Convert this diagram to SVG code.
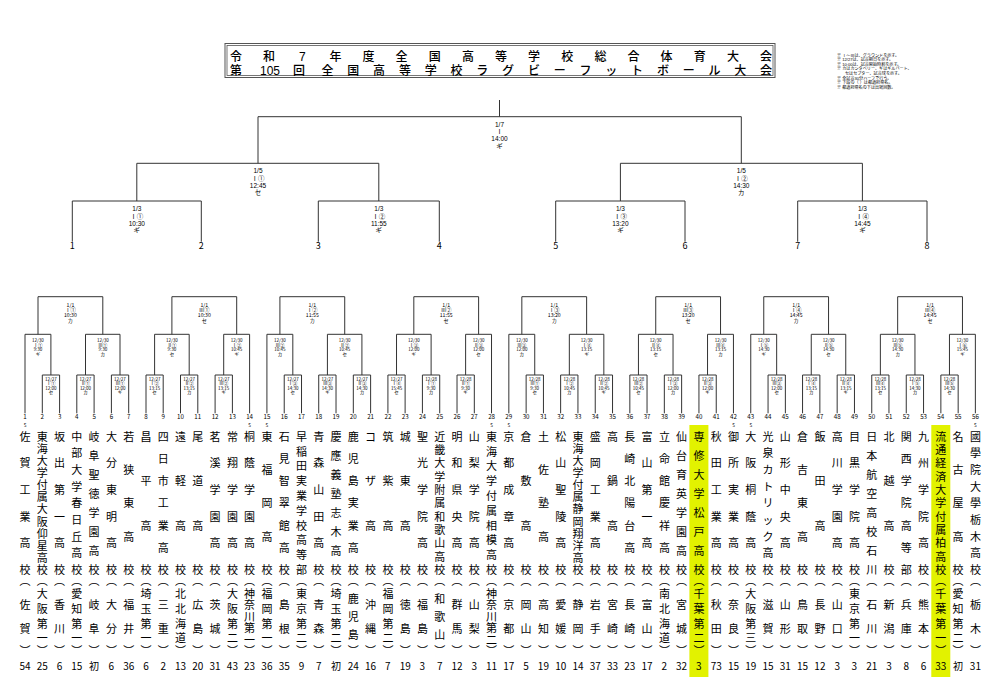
<svg xmlns="http://www.w3.org/2000/svg" width="1000" height="690" viewBox="0 0 1000 690">
<style>
text{font-family:"Noto Sans CJK JP","Noto Sans",sans-serif;fill:#000}
.ln{fill:none;stroke:#333;stroke-width:1}
.tt{font-size:12px;text-anchor:middle;font-weight:500;font-family:"Liberation Sans","Noto Sans CJK JP",sans-serif}
.nt{font-size:4.1px;font-family:"Liberation Sans","Noto Sans CJK JP",sans-serif}
.tl{font-size:6.5px;text-anchor:middle;font-family:"Liberation Sans","Noto Sans CJK JP",sans-serif}
.tn{font-size:9px;text-anchor:middle}
.l1{font-size:5.2px;text-anchor:middle}
.l2{font-size:4.5px;text-anchor:middle}
.no{font-size:6.2px;text-anchor:middle}
.sd{font-size:4.5px;text-anchor:middle}
.nm{font-size:11px;text-anchor:middle}
.ct{font-size:10px;text-anchor:middle}
.hl{fill:#E2F200}
</style>
<defs>
<path id="blkA" d="M42.3 413.3V375H59.6V413.3M76.8 413.3V375H94.1V413.3M111.4 413.3V375H128.7V413.3M25 413.3V334.3H50.9V375M85.5 375V334.3H120V375M38 334.3V296.7H102.8V334.3"/>
<path id="blkB" d="M146 413.3V375H163.2V413.3M180.5 413.3V375H197.8V413.3M215.1 413.3V375H232.4V413.3M154.6 375V334.3H189.2V375M223.7 375V334.3H249.6V413.3M171.9 334.3V296.7H236.7V334.3"/>
</defs>
<rect width="1000" height="690" fill="#fff"/>

<g id="title">
<rect x="225" y="43.5" width="550" height="34" fill="none" stroke="#555" stroke-width="1"/>
<rect x="227" y="45.5" width="546" height="30" fill="none" stroke="#555" stroke-width="0.8"/>
<text class="tt" x="236 269.1 302.3 335.4 368.5 401.6 434.8 467.9 501 534.1 567.3 600.4 633.5 666.6 699.8 732.9 766" y="60.5">令和7年度全国高等学校総合体育大会</text>
<text class="tt" y="74.5"><tspan x="236">第</tspan><tspan x="270">105</tspan><tspan x="299">回</tspan><tspan x="327.5 353.3 379.1 404.9 430.7 456.5 482.3 508.1 533.9 559.7 585.5 611.3 637.1 662.9 688.7 714.5 740.3 766.1">全国高等学校ラグビーフットボール大会</tspan></text>
</g>

<g id="notes">
<text class="nt"><tspan x="837" y="56.6">※ Ⅰ～Ⅲは、グラウンドを示す。</tspan><tspan x="837" y="61.2">※ 12/27は、試合期日を示す。</tspan><tspan x="837" y="65.8">※ 10:00は、試合開始時刻を示す。</tspan><tspan x="837" y="70.4">※ カはカンタベリー、ギはギルバート、</tspan><tspan x="845" y="75">セはセプター、試合球を示す。</tspan><tspan x="837" y="79.6">※ 全試合30分ハーフで行う。</tspan><tspan x="837" y="84.2">※ 下段の（ ）は都道府県名。</tspan><tspan x="837" y="88.8">※ 都道府県名の下は出場回数。</tspan></text>
</g>

<g id="highlights">
<rect class="hl" x="689.4" y="425" width="19" height="252"/>
<rect class="hl" x="931.3" y="425" width="19" height="252"/>
</g>

<g id="connectors" class="ln">
<path d="M499.5 100V116.7M258 163.3V116.7H741.3V163.3M136.8 201V163.3H378.8V201M620.4 201V163.3H862.4V201M72.3 241.7V201H201.3V241.7M318.3 241.7V201H439.3V241.7M555.7 241.7V201H685V241.7M797.7 241.7V201H927V241.7"/>
<use href="#blkA"/>
<use href="#blkB"/>
<use href="#blkA" x="241.92"/>
<use href="#blkB" x="241.92"/>
<use href="#blkA" x="483.84"/>
<use href="#blkB" x="483.84"/>
<use href="#blkA" x="725.76"/>
<use href="#blkB" x="725.76"/>
</g>

<g id="top-labels">
<text class="tl"><tspan x="499.5" y="126.6">1/7</tspan><tspan x="499.5" y="133.9">Ⅰ</tspan><tspan x="499.5" y="141.2">14:00</tspan><tspan x="499.5" y="148.5">ギ</tspan></text>
<text class="tl"><tspan x="258" y="173.3">1/5</tspan><tspan x="258" y="180.6">Ⅰ①</tspan><tspan x="258" y="187.9">12:45</tspan><tspan x="258" y="195.2">セ</tspan></text>
<text class="tl"><tspan x="741.3" y="173.3">1/5</tspan><tspan x="741.3" y="180.6">Ⅰ②</tspan><tspan x="741.3" y="187.9">14:30</tspan><tspan x="741.3" y="195.2">カ</tspan></text>
<text class="tl"><tspan x="136.8" y="211.3">1/3</tspan><tspan x="136.8" y="218.6">Ⅰ①</tspan><tspan x="136.8" y="225.9">10:30</tspan><tspan x="136.8" y="233.2">ギ</tspan></text>
<text class="tl"><tspan x="378.8" y="211.3">1/3</tspan><tspan x="378.8" y="218.6">Ⅰ②</tspan><tspan x="378.8" y="225.9">11:55</tspan><tspan x="378.8" y="233.2">ギ</tspan></text>
<text class="tl"><tspan x="620.4" y="211.3">1/3</tspan><tspan x="620.4" y="218.6">Ⅰ③</tspan><tspan x="620.4" y="225.9">13:20</tspan><tspan x="620.4" y="233.2">ギ</tspan></text>
<text class="tl"><tspan x="862.4" y="211.3">1/3</tspan><tspan x="862.4" y="218.6">Ⅰ④</tspan><tspan x="862.4" y="225.9">14:45</tspan><tspan x="862.4" y="233.2">ギ</tspan></text>
<text class="tn" x="72.3 201.3 318.3 439.3 555.7 685 797.7 927" y="248.5">12345678</text>
</g>

<g id="block1">
<text class="l1"><tspan x="70.4" y="307">1/1</tspan><tspan x="70.4" y="312.2">Ⅰ①</tspan><tspan x="70.4" y="317.4">10:30</tspan><tspan x="70.4" y="322.6">カ</tspan></text>
<text class="l2"><tspan x="38" y="342.4">12/30</tspan><tspan x="38" y="346.8">Ⅰ①</tspan><tspan x="38" y="351.2">9:30</tspan><tspan x="38" y="355.6">ギ</tspan></text>
<text class="l2"><tspan x="102.8" y="342.4">12/30</tspan><tspan x="102.8" y="346.8">Ⅲ①</tspan><tspan x="102.8" y="351.2">9:30</tspan><tspan x="102.8" y="355.6">カ</tspan></text>
<text class="l2"><tspan x="50.9" y="381">12/27</tspan><tspan x="50.9" y="385.4">Ⅰ①</tspan><tspan x="50.9" y="389.8">12:00</tspan><tspan x="50.9" y="394.2">セ</tspan></text>
<text class="l2"><tspan x="85.5" y="381">12/27</tspan><tspan x="85.5" y="385.4">Ⅱ①</tspan><tspan x="85.5" y="389.8">12:00</tspan><tspan x="85.5" y="394.2">カ</tspan></text>
<text class="l2"><tspan x="120" y="381">12/27</tspan><tspan x="120" y="385.4">Ⅲ①</tspan><tspan x="120" y="389.8">12:00</tspan><tspan x="120" y="394.2">ギ</tspan></text>
</g>
<g id="block2">
<text class="l1"><tspan x="204.3" y="307">1/1</tspan><tspan x="204.3" y="312.2">Ⅲ①</tspan><tspan x="204.3" y="317.4">10:30</tspan><tspan x="204.3" y="322.6">セ</tspan></text>
<text class="l2"><tspan x="171.9" y="342.4">12/30</tspan><tspan x="171.9" y="346.8">Ⅱ①</tspan><tspan x="171.9" y="351.2">9:30</tspan><tspan x="171.9" y="355.6">セ</tspan></text>
<text class="l2"><tspan x="236.7" y="342.4">12/30</tspan><tspan x="236.7" y="346.8">Ⅰ②</tspan><tspan x="236.7" y="351.2">10:45</tspan><tspan x="236.7" y="355.6">ギ</tspan></text>
<text class="l2"><tspan x="154.6" y="381">12/27</tspan><tspan x="154.6" y="385.4">Ⅰ②</tspan><tspan x="154.6" y="389.8">13:15</tspan><tspan x="154.6" y="394.2">セ</tspan></text>
<text class="l2"><tspan x="189.2" y="381">12/27</tspan><tspan x="189.2" y="385.4">Ⅱ②</tspan><tspan x="189.2" y="389.8">13:15</tspan><tspan x="189.2" y="394.2">カ</tspan></text>
<text class="l2"><tspan x="223.7" y="381">12/27</tspan><tspan x="223.7" y="385.4">Ⅲ②</tspan><tspan x="223.7" y="389.8">13:15</tspan><tspan x="223.7" y="394.2">ギ</tspan></text>
</g>
<g id="block3" transform="translate(241.92 0)">
<text class="l1"><tspan x="70.4" y="307">1/1</tspan><tspan x="70.4" y="312.2">Ⅰ②</tspan><tspan x="70.4" y="317.4">11:55</tspan><tspan x="70.4" y="322.6">カ</tspan></text>
<text class="l2"><tspan x="38" y="342.4">12/30</tspan><tspan x="38" y="346.8">Ⅲ②</tspan><tspan x="38" y="351.2">10:45</tspan><tspan x="38" y="355.6">カ</tspan></text>
<text class="l2"><tspan x="102.8" y="342.4">12/30</tspan><tspan x="102.8" y="346.8">Ⅱ②</tspan><tspan x="102.8" y="351.2">10:45</tspan><tspan x="102.8" y="355.6">セ</tspan></text>
<text class="l2"><tspan x="50.9" y="381">12/27</tspan><tspan x="50.9" y="385.4">Ⅰ③</tspan><tspan x="50.9" y="389.8">14:30</tspan><tspan x="50.9" y="394.2">セ</tspan></text>
<text class="l2"><tspan x="85.5" y="381">12/27</tspan><tspan x="85.5" y="385.4">Ⅲ③</tspan><tspan x="85.5" y="389.8">14:30</tspan><tspan x="85.5" y="394.2">ギ</tspan></text>
<text class="l2"><tspan x="120" y="381">12/27</tspan><tspan x="120" y="385.4">Ⅱ③</tspan><tspan x="120" y="389.8">14:30</tspan><tspan x="120" y="394.2">カ</tspan></text>
</g>
<g id="block4" transform="translate(241.92 0)">
<text class="l1"><tspan x="204.3" y="307">1/1</tspan><tspan x="204.3" y="312.2">Ⅲ②</tspan><tspan x="204.3" y="317.4">11:55</tspan><tspan x="204.3" y="322.6">セ</tspan></text>
<text class="l2"><tspan x="171.9" y="342.4">12/30</tspan><tspan x="171.9" y="346.8">Ⅰ③</tspan><tspan x="171.9" y="351.2">12:00</tspan><tspan x="171.9" y="355.6">ギ</tspan></text>
<text class="l2"><tspan x="236.7" y="342.4">12/30</tspan><tspan x="236.7" y="346.8">Ⅱ③</tspan><tspan x="236.7" y="351.2">12:00</tspan><tspan x="236.7" y="355.6">セ</tspan></text>
<text class="l2"><tspan x="154.6" y="381">12/27</tspan><tspan x="154.6" y="385.4">Ⅰ④</tspan><tspan x="154.6" y="389.8">15:45</tspan><tspan x="154.6" y="394.2">セ</tspan></text>
<text class="l2"><tspan x="189.2" y="381">12/28</tspan><tspan x="189.2" y="385.4">Ⅰ①</tspan><tspan x="189.2" y="389.8">9:30</tspan><tspan x="189.2" y="394.2">カ</tspan></text>
<text class="l2"><tspan x="223.7" y="381">12/28</tspan><tspan x="223.7" y="385.4">Ⅱ①</tspan><tspan x="223.7" y="389.8">9:30</tspan><tspan x="223.7" y="394.2">ギ</tspan></text>
</g>
<g id="block5" transform="translate(483.84 0)">
<text class="l1"><tspan x="70.4" y="307">1/1</tspan><tspan x="70.4" y="312.2">Ⅰ③</tspan><tspan x="70.4" y="317.4">13:20</tspan><tspan x="70.4" y="322.6">カ</tspan></text>
<text class="l2"><tspan x="38" y="342.4">12/30</tspan><tspan x="38" y="346.8">Ⅲ③</tspan><tspan x="38" y="351.2">12:00</tspan><tspan x="38" y="355.6">カ</tspan></text>
<text class="l2"><tspan x="102.8" y="342.4">12/30</tspan><tspan x="102.8" y="346.8">Ⅰ④</tspan><tspan x="102.8" y="351.2">13:15</tspan><tspan x="102.8" y="355.6">ギ</tspan></text>
<text class="l2"><tspan x="50.9" y="381">12/28</tspan><tspan x="50.9" y="385.4">Ⅲ①</tspan><tspan x="50.9" y="389.8">9:30</tspan><tspan x="50.9" y="394.2">セ</tspan></text>
<text class="l2"><tspan x="85.5" y="381">12/28</tspan><tspan x="85.5" y="385.4">Ⅰ②</tspan><tspan x="85.5" y="389.8">10:45</tspan><tspan x="85.5" y="394.2">カ</tspan></text>
<text class="l2"><tspan x="120" y="381">12/28</tspan><tspan x="120" y="385.4">Ⅱ②</tspan><tspan x="120" y="389.8">10:45</tspan><tspan x="120" y="394.2">ギ</tspan></text>
</g>
<g id="block6" transform="translate(483.84 0)">
<text class="l1"><tspan x="204.3" y="307">1/1</tspan><tspan x="204.3" y="312.2">Ⅲ③</tspan><tspan x="204.3" y="317.4">13:20</tspan><tspan x="204.3" y="322.6">セ</tspan></text>
<text class="l2"><tspan x="171.9" y="342.4">12/30</tspan><tspan x="171.9" y="346.8">Ⅱ④</tspan><tspan x="171.9" y="351.2">13:15</tspan><tspan x="171.9" y="355.6">セ</tspan></text>
<text class="l2"><tspan x="236.7" y="342.4">12/30</tspan><tspan x="236.7" y="346.8">Ⅲ④</tspan><tspan x="236.7" y="351.2">13:15</tspan><tspan x="236.7" y="355.6">カ</tspan></text>
<text class="l2"><tspan x="154.6" y="381">12/28</tspan><tspan x="154.6" y="385.4">Ⅲ②</tspan><tspan x="154.6" y="389.8">10:45</tspan><tspan x="154.6" y="394.2">セ</tspan></text>
<text class="l2"><tspan x="189.2" y="381">12/28</tspan><tspan x="189.2" y="385.4">Ⅰ③</tspan><tspan x="189.2" y="389.8">12:00</tspan><tspan x="189.2" y="394.2">カ</tspan></text>
<text class="l2"><tspan x="223.7" y="381">12/28</tspan><tspan x="223.7" y="385.4">Ⅱ③</tspan><tspan x="223.7" y="389.8">12:00</tspan><tspan x="223.7" y="394.2">ギ</tspan></text>
</g>
<g id="block7" transform="translate(725.76 0)">
<text class="l1"><tspan x="70.4" y="307">1/1</tspan><tspan x="70.4" y="312.2">Ⅰ④</tspan><tspan x="70.4" y="317.4">14:45</tspan><tspan x="70.4" y="322.6">カ</tspan></text>
<text class="l2"><tspan x="38" y="342.4">12/30</tspan><tspan x="38" y="346.8">Ⅰ⑤</tspan><tspan x="38" y="351.2">14:30</tspan><tspan x="38" y="355.6">ギ</tspan></text>
<text class="l2"><tspan x="102.8" y="342.4">12/30</tspan><tspan x="102.8" y="346.8">Ⅱ⑤</tspan><tspan x="102.8" y="351.2">14:30</tspan><tspan x="102.8" y="355.6">セ</tspan></text>
<text class="l2"><tspan x="50.9" y="381">12/28</tspan><tspan x="50.9" y="385.4">Ⅲ③</tspan><tspan x="50.9" y="389.8">12:00</tspan><tspan x="50.9" y="394.2">セ</tspan></text>
<text class="l2"><tspan x="85.5" y="381">12/28</tspan><tspan x="85.5" y="385.4">Ⅰ④</tspan><tspan x="85.5" y="389.8">13:15</tspan><tspan x="85.5" y="394.2">カ</tspan></text>
<text class="l2"><tspan x="120" y="381">12/28</tspan><tspan x="120" y="385.4">Ⅱ④</tspan><tspan x="120" y="389.8">13:15</tspan><tspan x="120" y="394.2">ギ</tspan></text>
</g>
<g id="block8" transform="translate(725.76 0)">
<text class="l1"><tspan x="204.3" y="307">1/1</tspan><tspan x="204.3" y="312.2">Ⅲ④</tspan><tspan x="204.3" y="317.4">14:45</tspan><tspan x="204.3" y="322.6">セ</tspan></text>
<text class="l2"><tspan x="171.9" y="342.4">12/30</tspan><tspan x="171.9" y="346.8">Ⅲ⑤</tspan><tspan x="171.9" y="351.2">14:30</tspan><tspan x="171.9" y="355.6">カ</tspan></text>
<text class="l2"><tspan x="236.7" y="342.4">12/30</tspan><tspan x="236.7" y="346.8">Ⅰ⑥</tspan><tspan x="236.7" y="351.2">15:45</tspan><tspan x="236.7" y="355.6">ギ</tspan></text>
<text class="l2"><tspan x="154.6" y="381">12/28</tspan><tspan x="154.6" y="385.4">Ⅲ④</tspan><tspan x="154.6" y="389.8">13:15</tspan><tspan x="154.6" y="394.2">セ</tspan></text>
<text class="l2"><tspan x="189.2" y="381">12/28</tspan><tspan x="189.2" y="385.4">Ⅰ⑤</tspan><tspan x="189.2" y="389.8">14:30</tspan><tspan x="189.2" y="394.2">カ</tspan></text>
<text class="l2"><tspan x="223.7" y="381">12/28</tspan><tspan x="223.7" y="385.4">Ⅲ⑤</tspan><tspan x="223.7" y="389.8">14:30</tspan><tspan x="223.7" y="394.2">セ</tspan></text>
</g>

<g id="team-numbers" class="no">
<text x="25" y="419.2">1</text><text x="42.3" y="419.2">2</text><text x="59.6" y="419.2">3</text><text x="76.8" y="419.2">4</text><text x="94.1" y="419.2">5</text><text x="111.4" y="419.2">6</text><text x="128.7" y="419.2">7</text><text x="146" y="419.2">8</text><text x="163.2" y="419.2">9</text><text x="180.5" y="419.2">10</text><text x="197.8" y="419.2">11</text><text x="215.1" y="419.2">12</text><text x="232.4" y="419.2">13</text><text x="249.6" y="419.2">14</text>
<text x="266.9" y="419.2">15</text><text x="284.2" y="419.2">16</text><text x="301.5" y="419.2">17</text><text x="318.8" y="419.2">18</text><text x="336" y="419.2">19</text><text x="353.3" y="419.2">20</text><text x="370.6" y="419.2">21</text><text x="387.9" y="419.2">22</text><text x="405.2" y="419.2">23</text><text x="422.4" y="419.2">24</text><text x="439.7" y="419.2">25</text><text x="457" y="419.2">26</text><text x="474.3" y="419.2">27</text><text x="491.6" y="419.2">28</text>
<text x="508.8" y="419.2">29</text><text x="526.1" y="419.2">30</text><text x="543.4" y="419.2">31</text><text x="560.7" y="419.2">32</text><text x="578" y="419.2">33</text><text x="595.2" y="419.2">34</text><text x="612.5" y="419.2">35</text><text x="629.8" y="419.2">36</text><text x="647.1" y="419.2">37</text><text x="664.4" y="419.2">38</text><text x="681.6" y="419.2">39</text><text x="698.9" y="419.2">40</text><text x="716.2" y="419.2">41</text><text x="733.5" y="419.2">42</text>
<text x="750.8" y="419.2">43</text><text x="768" y="419.2">44</text><text x="785.3" y="419.2">45</text><text x="802.6" y="419.2">46</text><text x="819.9" y="419.2">47</text><text x="837.2" y="419.2">48</text><text x="854.4" y="419.2">49</text><text x="871.7" y="419.2">50</text><text x="889" y="419.2">51</text><text x="906.3" y="419.2">52</text><text x="923.6" y="419.2">53</text><text x="940.8" y="419.2">54</text><text x="958.1" y="419.2">55</text><text x="975.4" y="419.2">56</text>
</g>
<g id="seeds" class="sd">
<text x="25" y="426.8">S</text><text x="249.6" y="426.8">S</text><text x="266.9" y="426.8">S</text><text x="491.6" y="426.8">S</text><text x="508.8" y="426.8">S</text><text x="733.5" y="426.8">S</text><text x="750.8" y="426.8">S</text><text x="975.4" y="426.8">S</text>
</g>

<g id="schools">
<g id="s1" transform="translate(25 0)"><text class="nm" x="0 0 0 0 0 0 0 0 0 0" y="440.7 467.4 494 520.7 547.3 574 584.7 608.6 632.9 654.6">佐賀工業高校︵佐賀︶</text><text class="ct" x="0" y="669.6">54</text></g>
<g id="s2" transform="translate(42.3 0)"><text class="nm" x="0 0 0 0 0 0 0 0 0 0 0 0 0 0 0 0 0 0" y="440.7 452.8 464.9 477.1 489.2 501.3 513.4 525.5 537.6 549.8 561.9 574 584.7 598.3 613 627.7 642.4 654.6">東海大学付属大阪仰星高校︵大阪第一︶</text><text class="ct" x="0" y="669.6">25</text></g>
<g id="s3" transform="translate(59.6 0)"><text class="nm" x="0 0 0 0 0 0 0 0 0 0" y="440.7 467.4 494 520.7 547.3 574 584.7 608.6 632.9 654.6">坂出第一高校︵香川︶</text><text class="ct" x="0" y="669.6">6</text></g>
<g id="s4" transform="translate(76.8 0)"><text class="nm" x="0 0 0 0 0 0 0 0 0 0 0 0 0 0 0" y="440.7 457.4 474 490.7 507.4 524 540.7 557.3 574 584.7 598.3 613 627.7 642.4 654.6">中部大学春日丘高校︵愛知第一︶</text><text class="ct" x="0" y="669.6">15</text></g>
<g id="s5" transform="translate(94.1 0)"><text class="nm" x="0 0 0 0 0 0 0 0 0 0 0 0" y="440.7 459.7 478.8 497.8 516.9 535.9 555 574 584.7 608.6 632.9 654.6">岐阜聖徳学園高校︵岐阜︶</text><text class="ct" x="0" y="669.6">初</text></g>
<g id="s6" transform="translate(111.4 0)"><text class="nm" x="0 0 0 0 0 0 0 0 0 0" y="440.7 467.4 494 520.7 547.3 574 584.7 608.6 632.9 654.6">大分東明高校︵大分︶</text><text class="ct" x="0" y="669.6">6</text></g>
<g id="s7" transform="translate(128.7 0)"><text class="nm" x="0 0 0 0 0 0 0 0 0" y="440.7 474 507.3 540.7 574 584.7 608.6 632.9 654.6">若狭東高校︵福井︶</text><text class="ct" x="0" y="669.6">36</text></g>
<g id="s8" transform="translate(146 0)"><text class="nm" x="0 0 0 0 0 0 0 0 0 0" y="440.7 485.1 529.6 574 584.7 598.3 613 627.7 642.4 654.6">昌平高校︵埼玉第一︶</text><text class="ct" x="0" y="669.6">6</text></g>
<g id="s9" transform="translate(163.2 0)"><text class="nm" x="0 0 0 0 0 0 0 0 0 0 0" y="440.7 462.9 485.1 507.3 529.6 551.8 574 584.7 608.6 632.9 654.6">四日市工業高校︵三重︶</text><text class="ct" x="0" y="669.6">2</text></g>
<g id="s10" transform="translate(180.5 0)"><text class="nm" x="0 0 0 0 0 0 0 0 0 0" y="440.7 485.1 529.6 574 584.7 598.3 613 627.7 642.4 654.6">遠軽高校︵北北海道︶</text><text class="ct" x="0" y="669.6">13</text></g>
<g id="s11" transform="translate(197.8 0)"><text class="nm" x="0 0 0 0 0 0 0 0" y="440.7 485.1 529.6 574 584.7 608.6 632.9 654.6">尾道高校︵広島︶</text><text class="ct" x="0" y="669.6">20</text></g>
<g id="s12" transform="translate(215.1 0)"><text class="nm" x="0 0 0 0 0 0 0 0 0 0" y="440.7 467.4 494 520.7 547.3 574 584.7 608.6 632.9 654.6">茗溪学園高校︵茨城︶</text><text class="ct" x="0" y="669.6">31</text></g>
<g id="s13" transform="translate(232.4 0)"><text class="nm" x="0 0 0 0 0 0 0 0 0 0 0 0" y="440.7 467.4 494 520.7 547.3 574 584.7 598.3 613 627.7 642.4 654.6">常翔学園高校︵大阪第二︶</text><text class="ct" x="0" y="669.6">43</text></g>
<g id="s14" transform="translate(249.6 0)"><text class="nm" x="0 0 0 0 0 0 0 0 0 0 0 0 0" y="440.7 467.4 494 520.7 547.3 574 584.7 597.7 609.2 620.7 632.2 643.7 654.6">桐蔭学園高校︵神奈川第一︶</text><text class="ct" x="0" y="669.6">23</text></g>
<g id="s15" transform="translate(266.9 0)"><text class="nm" x="0 0 0 0 0 0 0 0 0 0 0" y="440.7 474 507.3 540.7 574 584.7 598.3 613 627.7 642.4 654.6">東福岡高校︵福岡第一︶</text><text class="ct" x="0" y="669.6">36</text></g>
<g id="s16" transform="translate(284.2 0)"><text class="nm" x="0 0 0 0 0 0 0 0 0 0 0" y="440.7 462.9 485.1 507.3 529.6 551.8 574 584.7 608.6 632.9 654.6">石見智翠館高校︵島根︶</text><text class="ct" x="0" y="669.6">35</text></g>
<g id="s17" transform="translate(301.5 0)"><text class="nm" x="0 0 0 0 0 0 0 0 0 0 0 0 0 0 0 0" y="440.7 455.5 470.3 485.1 499.9 514.8 529.6 544.4 559.2 574 584.7 598.3 613 627.7 642.4 654.6">早稲田実業学校高等部︵東京第二︶</text><text class="ct" x="0" y="669.6">9</text></g>
<g id="s18" transform="translate(318.8 0)"><text class="nm" x="0 0 0 0 0 0 0 0 0 0" y="440.7 467.4 494 520.7 547.3 574 584.7 608.6 632.9 654.6">青森山田高校︵青森︶</text><text class="ct" x="0" y="669.6">7</text></g>
<g id="s19" transform="translate(336 0)"><text class="nm" x="0 0 0 0 0 0 0 0 0 0 0 0 0 0" y="440.7 459.7 478.8 497.8 516.9 535.9 555 574 584.7 598.3 613 627.7 642.4 654.6">慶應義塾志木高校︵埼玉第二︶</text><text class="ct" x="0" y="669.6">初</text></g>
<g id="s20" transform="translate(353.3 0)"><text class="nm" x="0 0 0 0 0 0 0 0 0 0 0 0" y="440.7 462.9 485.1 507.3 529.6 551.8 574 584.7 602.7 620.7 638.7 654.6">鹿児島実業高校︵鹿児島︶</text><text class="ct" x="0" y="669.6">24</text></g>
<g id="s21" transform="translate(370.6 0)"><text class="nm" x="0 0 0 0 0 0 0 0" y="440.7 485.1 529.6 574 584.7 608.6 632.9 654.6">コザ高校︵沖縄︶</text><text class="ct" x="0" y="669.6">16</text></g>
<g id="s22" transform="translate(387.9 0)"><text class="nm" x="0 0 0 0 0 0 0 0 0 0" y="440.7 485.1 529.6 574 584.7 598.3 613 627.7 642.4 654.6">筑紫高校︵福岡第二︶</text><text class="ct" x="0" y="669.6">7</text></g>
<g id="s23" transform="translate(405.2 0)"><text class="nm" x="0 0 0 0 0 0 0 0" y="440.7 485.1 529.6 574 584.7 608.6 632.9 654.6">城東高校︵徳島︶</text><text class="ct" x="0" y="669.6">19</text></g>
<g id="s24" transform="translate(422.4 0)"><text class="nm" x="0 0 0 0 0 0 0 0 0 0" y="440.7 467.4 494 520.7 547.3 574 584.7 608.6 632.9 654.6">聖光学院高校︵福島︶</text><text class="ct" x="0" y="669.6">3</text></g>
<g id="s25" transform="translate(439.7 0)"><text class="nm" x="0 0 0 0 0 0 0 0 0 0 0 0 0 0 0 0" y="440.7 454 467.4 480.7 494 507.4 520.7 534 547.3 560.7 574 584.7 602.7 620.7 638.7 654.6">近畿大学附属和歌山高校︵和歌山︶</text><text class="ct" x="0" y="669.6">7</text></g>
<g id="s26" transform="translate(457 0)"><text class="nm" x="0 0 0 0 0 0 0 0 0 0" y="440.7 467.4 494 520.7 547.3 574 584.7 608.6 632.9 654.6">明和県央高校︵群馬︶</text><text class="ct" x="0" y="669.6">12</text></g>
<g id="s27" transform="translate(474.3 0)"><text class="nm" x="0 0 0 0 0 0 0 0 0 0" y="440.7 467.4 494 520.7 547.3 574 584.7 608.6 632.9 654.6">山梨学院高校︵山梨︶</text><text class="ct" x="0" y="669.6">3</text></g>
<g id="s28" transform="translate(491.6 0)"><text class="nm" x="0 0 0 0 0 0 0 0 0 0 0 0 0 0 0 0 0" y="440.7 455.5 470.3 485.1 499.9 514.8 529.6 544.4 559.2 574 584.7 597.7 609.2 620.7 632.2 643.7 654.6">東海大学付属相模高校︵神奈川第二︶</text><text class="ct" x="0" y="669.6">11</text></g>
<g id="s29" transform="translate(508.8 0)"><text class="nm" x="0 0 0 0 0 0 0 0 0 0" y="440.7 467.4 494 520.7 547.3 574 584.7 608.6 632.9 654.6">京都成章高校︵京都︶</text><text class="ct" x="0" y="669.6">17</text></g>
<g id="s30" transform="translate(526.1 0)"><text class="nm" x="0 0 0 0 0 0 0 0" y="440.7 485.1 529.6 574 584.7 608.6 632.9 654.6">倉敷高校︵岡山︶</text><text class="ct" x="0" y="669.6">5</text></g>
<g id="s31" transform="translate(543.4 0)"><text class="nm" x="0 0 0 0 0 0 0 0 0" y="440.7 474 507.3 540.7 574 584.7 608.6 632.9 654.6">土佐塾高校︵高知︶</text><text class="ct" x="0" y="669.6">19</text></g>
<g id="s32" transform="translate(560.7 0)"><text class="nm" x="0 0 0 0 0 0 0 0 0 0" y="440.7 467.4 494 520.7 547.3 574 584.7 608.6 632.9 654.6">松山聖陵高校︵愛媛︶</text><text class="ct" x="0" y="669.6">10</text></g>
<g id="s33" transform="translate(578 0)"><text class="nm" x="0 0 0 0 0 0 0 0 0 0 0 0 0 0 0 0" y="440.7 452.8 464.9 477.1 489.2 501.3 513.4 525.5 537.6 549.8 561.9 574 584.7 608.6 632.9 654.6">東海大学付属静岡翔洋高校︵静岡︶</text><text class="ct" x="0" y="669.6">14</text></g>
<g id="s34" transform="translate(595.2 0)"><text class="nm" x="0 0 0 0 0 0 0 0 0 0" y="440.7 467.4 494 520.7 547.3 574 584.7 608.6 632.9 654.6">盛岡工業高校︵岩手︶</text><text class="ct" x="0" y="669.6">37</text></g>
<g id="s35" transform="translate(612.5 0)"><text class="nm" x="0 0 0 0 0 0 0 0" y="440.7 485.1 529.6 574 584.7 608.6 632.9 654.6">高鍋高校︵宮崎︶</text><text class="ct" x="0" y="669.6">33</text></g>
<g id="s36" transform="translate(629.8 0)"><text class="nm" x="0 0 0 0 0 0 0 0 0 0 0" y="440.7 462.9 485.1 507.3 529.6 551.8 574 584.7 608.6 632.9 654.6">長崎北陽台高校︵長崎︶</text><text class="ct" x="0" y="669.6">23</text></g>
<g id="s37" transform="translate(647.1 0)"><text class="nm" x="0 0 0 0 0 0 0 0 0 0" y="440.7 467.4 494 520.7 547.3 574 584.7 608.6 632.9 654.6">富山第一高校︵富山︶</text><text class="ct" x="0" y="669.6">17</text></g>
<g id="s38" transform="translate(664.4 0)"><text class="nm" x="0 0 0 0 0 0 0 0 0 0 0 0 0" y="440.7 462.9 485.1 507.3 529.6 551.8 574 584.7 598.3 613 627.7 642.4 654.6">立命館慶祥高校︵南北海道︶</text><text class="ct" x="0" y="669.6">2</text></g>
<g id="s39" transform="translate(681.6 0)"><text class="nm" x="0 0 0 0 0 0 0 0 0 0 0 0" y="440.7 459.7 478.8 497.8 516.9 535.9 555 574 584.7 608.6 632.9 654.6">仙台育英学園高校︵宮城︶</text><text class="ct" x="0" y="669.6">32</text></g>
<g id="s40" transform="translate(698.9 0)"><text class="nm" x="0 0 0 0 0 0 0 0 0 0 0 0 0 0" y="440.7 459.7 478.8 497.8 516.9 535.9 555 574 584.7 598.3 613 627.7 642.4 654.6">専修大学松戸高校︵千葉第二︶</text><text class="ct" x="0" y="669.6">3</text></g>
<g id="s41" transform="translate(716.2 0)"><text class="nm" x="0 0 0 0 0 0 0 0 0 0" y="440.7 467.4 494 520.7 547.3 574 584.7 608.6 632.9 654.6">秋田工業高校︵秋田︶</text><text class="ct" x="0" y="669.6">73</text></g>
<g id="s42" transform="translate(733.5 0)"><text class="nm" x="0 0 0 0 0 0 0 0 0 0" y="440.7 467.4 494 520.7 547.3 574 584.7 608.6 632.9 654.6">御所実業高校︵奈良︶</text><text class="ct" x="0" y="669.6">15</text></g>
<g id="s43" transform="translate(750.8 0)"><text class="nm" x="0 0 0 0 0 0 0 0 0 0 0 0" y="440.7 467.4 494 520.7 547.3 574 584.7 598.3 613 627.7 642.4 654.6">大阪桐蔭高校︵大阪第三︶</text><text class="ct" x="0" y="669.6">19</text></g>
<g id="s44" transform="translate(768 0)"><text class="nm" x="0 0 0 0 0 0 0 0 0 0 0 0 0" y="440.7 457.4 474 490.7 507.4 524 540.7 557.3 574 584.7 608.6 632.9 654.6">光泉カトリック高校︵滋賀︶</text><text class="ct" x="0" y="669.6">15</text></g>
<g id="s45" transform="translate(785.3 0)"><text class="nm" x="0 0 0 0 0 0 0 0 0 0" y="440.7 467.4 494 520.7 547.3 574 584.7 608.6 632.9 654.6">山形中央高校︵山形︶</text><text class="ct" x="0" y="669.6">31</text></g>
<g id="s46" transform="translate(802.6 0)"><text class="nm" x="0 0 0 0 0 0 0 0 0" y="440.7 474 507.3 540.7 574 584.7 608.6 632.9 654.6">倉吉東高校︵鳥取︶</text><text class="ct" x="0" y="669.6">15</text></g>
<g id="s47" transform="translate(819.9 0)"><text class="nm" x="0 0 0 0 0 0 0 0" y="440.7 485.1 529.6 574 584.7 608.6 632.9 654.6">飯田高校︵長野︶</text><text class="ct" x="0" y="669.6">12</text></g>
<g id="s48" transform="translate(837.2 0)"><text class="nm" x="0 0 0 0 0 0 0 0 0 0" y="440.7 467.4 494 520.7 547.3 574 584.7 608.6 632.9 654.6">高川学園高校︵山口︶</text><text class="ct" x="0" y="669.6">3</text></g>
<g id="s49" transform="translate(854.4 0)"><text class="nm" x="0 0 0 0 0 0 0 0 0 0 0 0" y="440.7 467.4 494 520.7 547.3 574 584.7 598.3 613 627.7 642.4 654.6">目黒学院高校︵東京第一︶</text><text class="ct" x="0" y="669.6">3</text></g>
<g id="s50" transform="translate(871.7 0)"><text class="nm" x="0 0 0 0 0 0 0 0 0 0 0 0" y="440.7 459.7 478.8 497.8 516.9 535.9 555 574 584.7 608.6 632.9 654.6">日本航空高校石川︵石川︶</text><text class="ct" x="0" y="669.6">21</text></g>
<g id="s51" transform="translate(889 0)"><text class="nm" x="0 0 0 0 0 0 0 0" y="440.7 485.1 529.6 574 584.7 608.6 632.9 654.6">北越高校︵新潟︶</text><text class="ct" x="0" y="669.6">3</text></g>
<g id="s52" transform="translate(906.3 0)"><text class="nm" x="0 0 0 0 0 0 0 0 0 0 0" y="440.7 462.9 485.1 507.3 529.6 551.8 574 584.7 608.6 632.9 654.6">関西学院高等部︵兵庫︶</text><text class="ct" x="0" y="669.6">8</text></g>
<g id="s53" transform="translate(923.6 0)"><text class="nm" x="0 0 0 0 0 0 0 0 0 0" y="440.7 467.4 494 520.7 547.3 574 584.7 608.6 632.9 654.6">九州学院高校︵熊本︶</text><text class="ct" x="0" y="669.6">6</text></g>
<g id="s54" transform="translate(940.8 0)"><text class="nm" x="0 0 0 0 0 0 0 0 0 0 0 0 0 0 0 0 0" y="440.7 454 467.4 480.7 494 507.4 520.7 534 547.3 560.7 574 584.7 598.3 613 627.7 642.4 654.6">流通経済大学付属柏高校︵千葉第一︶</text><text class="ct" x="0" y="669.6">33</text></g>
<g id="s55" transform="translate(958.1 0)"><text class="nm" x="0 0 0 0 0 0 0 0 0 0 0" y="440.7 474 507.3 540.7 574 584.7 598.3 613 627.7 642.4 654.6">名古屋高校︵愛知第二︶</text><text class="ct" x="0" y="669.6">初</text></g>
<g id="s56" transform="translate(975.4 0)"><text class="nm" x="0 0 0 0 0 0 0 0 0 0 0 0 0" y="440.7 457.4 474 490.7 507.4 524 540.7 557.3 574 584.7 608.6 632.9 654.6">國學院大學栃木高校︵栃木︶</text><text class="ct" x="0" y="669.6">31</text></g>
</g>
</svg>
